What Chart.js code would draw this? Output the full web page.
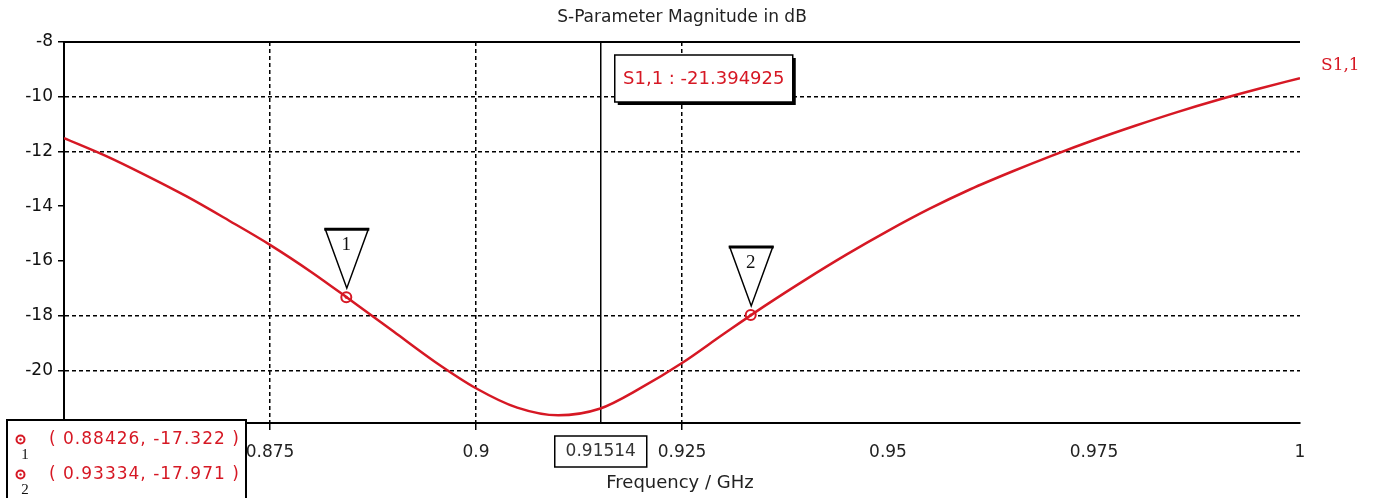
<!DOCTYPE html>
<html>
<head>
<meta charset="utf-8">
<title>S-Parameter Magnitude in dB</title>
<script src="https://cdn.jsdelivr.net/npm/chart.js@4.4.1/dist/chart.umd.min.js"></script>
<style>
  html, body { margin: 0; padding: 0; background: #fff; }
  #wrap { width: 1378px; height: 498px; position: relative; }
</style>
</head>
<body>
<div id="wrap"><canvas id="sparam"></canvas></div>
<script>
// S1,1 trace (GHz / dB)
const freqGHz = [0.850, 0.855, 0.860, 0.865, 0.870, 0.875, 0.880, 0.885, 0.890, 0.895,
                 0.900, 0.905, 0.910, 0.915, 0.920, 0.925, 0.930, 0.935, 0.940, 0.945,
                 0.950, 0.955, 0.960, 0.965, 0.970, 0.975, 0.980, 0.985, 0.990, 0.995, 1.000];
const s11dB = [-11.51, -12.15, -12.88, -13.66, -14.52, -15.41, -16.40, -17.48, -18.58, -19.68,
               -20.65, -21.36, -21.64, -21.40, -20.64, -19.73, -18.68, -17.65, -16.68, -15.76,
               -14.90, -14.10, -13.38, -12.74, -12.14, -11.58, -11.06, -10.57, -10.12, -9.71, -9.32];

// markers 1 and 2
const markerFreq = [0.88426, 0.93334];
const markerDb = [-17.322, -17.971];
const markerNames = ['1', '2'];

// axis marker (cursor)
const cursorFreq = 0.91514;
const cursorValue = -21.394925;

const xTickValues = [0.85, 0.875, 0.9, 0.925, 0.95, 0.975, 1];
const xTickLabels = ['0.85', '0.875', '0.9', '0.925', '0.95', '0.975', '1'];
const yTickValues = [-8, -10, -12, -14, -16, -18, -20];
const xGridAt = [0.875, 0.9, 0.925];
const yGridAt = [-10, -12, -18, -20];

const RED = 'rgb(214,24,36)';
const FAM = '"DejaVu Sans", Verdana, sans-serif';
Chart.defaults.font.family = FAM;

const near = (v, list) => list.some(g => Math.abs(g - v) < 1e-6);

const overlay = {
  id: 'overlay',
  beforeDatasetsDraw(chart) {
    const { ctx, chartArea: a, scales: { x } } = chart;
    const cx = x.getPixelForValue(cursorFreq);
    ctx.save();
    ctx.strokeStyle = '#000';
    ctx.lineWidth = 1.5;
    ctx.beginPath();
    ctx.moveTo(cx, a.top);
    ctx.lineTo(cx, a.bottom);
    ctx.stroke();
    ctx.restore();
  },
  afterDraw(chart) {
    const { ctx, chartArea: a, scales: { x, y } } = chart;
    ctx.save();

    // top frame line
    ctx.strokeStyle = '#000';
    ctx.lineWidth = 2;
    ctx.beginPath();
    ctx.moveTo(a.left - 1, a.top);
    ctx.lineTo(a.right, a.top);
    ctx.stroke();

    // marker centre dots + triangles
    markerFreq.forEach((f, i) => {
      const px = x.getPixelForValue(f);
      const py = y.getPixelForValue(markerDb[i]);
      ctx.fillStyle = RED;
      ctx.beginPath();
      ctx.arc(px, py, 1.5, 0, Math.PI * 2);
      ctx.fill();

      ctx.strokeStyle = '#000';
      ctx.fillStyle = '#fff';
      ctx.lineWidth = 1.5;
      ctx.beginPath();
      ctx.moveTo(px - 21, py - 68);
      ctx.lineTo(px + 22, py - 68);
      ctx.lineTo(px + 0.5, py - 9);
      ctx.closePath();
      ctx.fill();
      ctx.stroke();
      ctx.lineWidth = 3;
      ctx.beginPath();
      ctx.moveTo(px - 22, py - 68);
      ctx.lineTo(px + 23, py - 68);
      ctx.stroke();

      ctx.fillStyle = '#111';
      ctx.font = '19px "Liberation Serif", serif';
      ctx.textAlign = 'center';
      ctx.textBaseline = 'middle';
      ctx.fillText(markerNames[i], px, py - 52);
    });

    // cursor value box
    const cx = x.getPixelForValue(cursorFreq);
    const bx = cx + 14, by = 55, bw = 178, bh = 47;
    ctx.fillStyle = '#fff';
    ctx.fillRect(bx, by, bw, bh);
    ctx.strokeStyle = '#000';
    ctx.lineWidth = 1.5;
    ctx.strokeRect(bx, by, bw, bh);
    ctx.lineWidth = 3;
    ctx.beginPath();
    ctx.moveTo(bx + bw + 1.5, by + 3);
    ctx.lineTo(bx + bw + 1.5, by + bh + 1.5);
    ctx.lineTo(bx + 3, by + bh + 1.5);
    ctx.stroke();
    ctx.fillStyle = RED;
    ctx.font = '18px ' + FAM;
    ctx.textAlign = 'center';
    ctx.textBaseline = 'middle';
    ctx.fillText('S1,1 : ' + cursorValue.toFixed(6), bx + bw / 2, by + bh / 2 + 1);

    // cursor frequency box under the axis
    ctx.fillStyle = '#fff';
    ctx.fillRect(cx - 46, 436, 92, 31);
    ctx.strokeStyle = '#000';
    ctx.lineWidth = 1.5;
    ctx.strokeRect(cx - 46, 436, 92, 31);
    ctx.fillStyle = '#333';
    ctx.font = '17px ' + FAM;
    ctx.fillText(cursorFreq.toFixed(5), cx, 452);

    // trace name at right end
    ctx.fillStyle = RED;
    ctx.font = '17px "DejaVu Serif", serif';
    ctx.textAlign = 'left';
    ctx.fillText('S1,1', a.right + 21, y.getPixelForValue(s11dB[s11dB.length - 1]) - 13);

    // titles
    ctx.fillStyle = '#222';
    ctx.textAlign = 'center';
    ctx.font = '17px ' + FAM;
    ctx.fillText('S-Parameter Magnitude in dB', (a.left + a.right) / 2, 18);
    ctx.font = '18px ' + FAM;
    ctx.fillText('Frequency / GHz', (a.left + a.right) / 2 - 2, 483);

    // marker legend box
    ctx.fillStyle = '#fff';
    ctx.fillRect(7, 420, 239, 90);
    ctx.strokeStyle = '#000';
    ctx.lineWidth = 2;
    ctx.strokeRect(7, 420, 239, 90);
    markerFreq.forEach((f, i) => {
      const ry = 439.5 + i * 35;
      ctx.strokeStyle = RED;
      ctx.lineWidth = 2;
      ctx.fillStyle = '#fff';
      ctx.beginPath();
      ctx.arc(20.5, ry, 4, 0, Math.PI * 2);
      ctx.fill();
      ctx.stroke();
      ctx.fillStyle = RED;
      ctx.beginPath();
      ctx.arc(20.5, ry, 1.2, 0, Math.PI * 2);
      ctx.fill();
      ctx.fillStyle = '#111';
      ctx.font = '15px "Liberation Serif", serif';
      ctx.textAlign = 'center';
      ctx.fillText(markerNames[i], 25, ry + 16);
      ctx.fillStyle = RED;
      ctx.font = '17px ' + FAM;
      ctx.textAlign = 'left';
      ctx.letterSpacing = '1px';
      ctx.fillText('( ' + f.toFixed(5) + ', ' + markerDb[i].toFixed(3) + ' )', 49, ry);
      ctx.letterSpacing = '0px';
    });

    ctx.restore();
  }
};

new Chart(document.getElementById('sparam'), {
  type: 'line',
  data: {
    datasets: [
      {
        label: 'S1,1',
        data: freqGHz.map((f, i) => ({ x: f, y: s11dB[i] })),
        borderColor: RED,
        borderWidth: 2.5,
        pointRadius: 0,
        cubicInterpolationMode: 'monotone',
        fill: false
      },
      {
        label: 'markers',
        data: markerFreq.map((f, i) => ({ x: f, y: markerDb[i] })),
        showLine: false,
        pointStyle: 'circle',
        pointRadius: 5,
        pointBorderWidth: 2,
        pointBorderColor: RED,
        pointBackgroundColor: '#fff'
      }
    ]
  },
  options: {
    responsive: true,
    maintainAspectRatio: false,
    animation: false,
    events: [],
    layout: { padding: { left: 0, top: 42, right: 78, bottom: 0 } },
    plugins: {
      legend: { display: false },
      tooltip: { enabled: false },
      title: { display: false }
    },
    scales: {
      x: {
        type: 'linear',
        min: 0.85,
        max: 1.0,
        afterBuildTicks: s => { s.ticks = xTickValues.map(v => ({ value: v })); },
        afterFit: s => { s.height = 75; },
        ticks: {
          callback: (v, i) => xTickLabels[i],
          color: '#222',
          font: { size: 17 },
          padding: 12,
          maxRotation: 0,
          autoSkip: false
        },
        grid: {
          color: c => (c.tick && near(c.tick.value, xGridAt)) ? '#000' : 'rgba(0,0,0,0)',
          lineWidth: 1.5,
          tickLength: 7,
          tickWidth: 1.5,
          tickColor: c => (c.tick && near(c.tick.value, xGridAt)) ? '#000' : 'rgba(0,0,0,0)'
        },
        border: { color: '#000', width: 2, dash: [4, 3] }
      },
      y: {
        type: 'linear',
        min: -21.92,
        max: -8,
        afterBuildTicks: s => { s.ticks = yTickValues.map(v => ({ value: v })); },
        afterFit: s => { s.width = 64; },
        ticks: {
          color: '#111',
          font: { size: 17 },
          padding: 5
        },
        grid: {
          color: c => (c.tick && near(c.tick.value, yGridAt)) ? '#000' : 'rgba(0,0,0,0)',
          lineWidth: 1.5,
          tickLength: 6,
          tickWidth: 1.5,
          tickColor: '#000'
        },
        border: { color: '#000', width: 2, dash: [4, 3] }
      }
    }
  },
  plugins: [overlay]
});
</script>
</body>
</html>
